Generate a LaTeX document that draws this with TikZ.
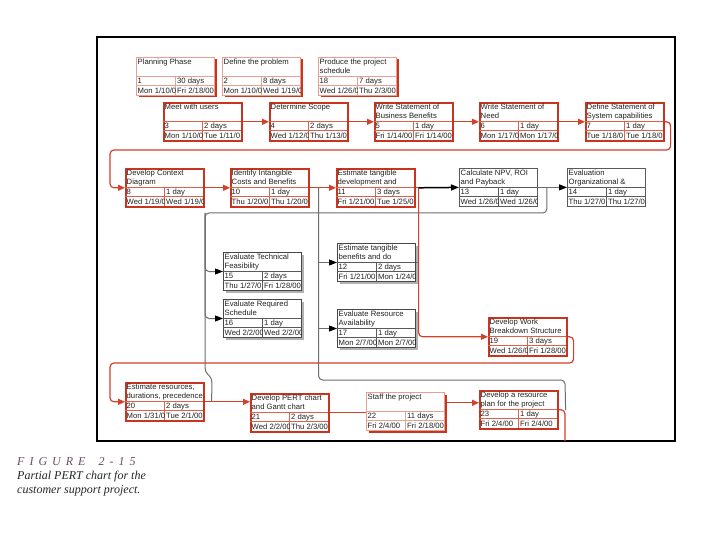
\documentclass[tikz,border=0pt]{standalone}
\usepackage{fontspec}
\newfontfamily\nodefont{Liberation Sans}
\newfontfamily\capfont{Liberation Serif}
\usetikzlibrary{arrows.meta,calc}
\definecolor{pertred}{HTML}{C8341E}
\definecolor{pertsep}{HTML}{E0604A}
\definecolor{pertpink}{HTML}{E8A090}
\definecolor{linered}{HTML}{D4402A}
\definecolor{linegray}{HTML}{6E6E6E}
\definecolor{boxgray}{HTML}{5A5A5A}
\definecolor{figpurple}{HTML}{6E4A64}
\definecolor{txt}{HTML}{222222}
\tikzset{
 rbox/.style={draw=pertred, line width=1.6pt, fill=white},
 rsep/.style={draw=pertsep, line width=0.6pt},
 rshadow/.style={},
 lbox/.style={draw=pertpink, line width=0.7pt, fill=white},
 lsep/.style={draw=pertpink, line width=0.6pt},
 lshadow/.style={fill=pertred},
 gbox/.style={draw=boxgray, line width=0.8pt, fill=white},
 gsep/.style={draw=boxgray, line width=0.5pt},
 gshadow/.style={},
 dbox/.style={draw=boxgray!80!black, line width=1pt, fill=white},
 dsep/.style={draw=boxgray, line width=0.5pt},
 dshadow/.style={fill=gray!60},
 celltext/.style={font=\nodefont\fontsize{7.7}{8.7}\selectfont, text=txt, inner sep=0pt, anchor=base west},
 redline/.style={draw=linered, line width=1.2pt},
 redarrow/.style={redline, -{Triangle[length=7pt,width=6pt]}},
 grayline/.style={draw=linegray, line width=1pt},
 grayarrow/.style={grayline, -{Triangle[length=8pt,width=6pt,color=black]}},
 blackarrow/.style={draw=black, line width=1.5pt, -{Triangle[length=8pt,width=6pt]}},
 captext/.style={anchor=base west, inner sep=0pt, text=black!85, font=\capfont\itshape\fontsize{12}{14}\selectfont},
}
% #1 name, #2 x, #3 y, #4 kind, #5 title, #6 id, #7 duration, #8 start, #9 finish
\newcommand{\pert}[9]{%
 \path[#4shadow] (#2+2.5,#3+2.5) rectangle (#2+80.5,#3+40.5);
 \node[#4box, anchor=north west, minimum width=78pt, minimum height=38pt, inner sep=0pt] (#1) at (#2,#3) {};
 \draw[#4sep] (#2,#3+19) -- (#2+78,#3+19) (#2,#3+28.5) -- (#2+78,#3+28.5) (#2+39,#3+19) -- (#2+39,#3+38);
 \begin{scope}\clip (#2,#3) rectangle (#2+78,#3+19.4);
  \node[celltext, anchor=north west, align=left] (#1-t) at (#2+1.5,#3+2.2) {#5};
 \end{scope}
 \begin{scope}\clip (#2,#3+19) rectangle (#2+39,#3+38);
  \node[celltext] (#1-id) at (#2+1.5,#3+26.6) {#6};
  \node[celltext] (#1-s) at (#2+1.5,#3+36.1) {#8};
 \end{scope}
 \begin{scope}\clip (#2+39,#3+19) rectangle (#2+78,#3+38);
  \node[celltext] (#1-d) at (#2+41,#3+26.6) {#7};
  \node[celltext] (#1-f) at (#2+41,#3+36.1) {#9};
 \end{scope}
}
\begin{document}
\begin{tikzpicture}[x=1pt,y=-1pt]
\useasboundingbox (0,0) rectangle (720,540);
\fill[white] (0,0) rectangle (720,540);
\draw[line width=1.5pt] (97,37) rectangle (675,441);

% row 1
\pert{n1}{136}{57}{l}{Planning Phase}{1}{30 days}{Mon 1/10/0}{Fri 2/18/00}
\pert{n2}{222}{57}{l}{Define the problem}{2}{8 days}{Mon 1/10/0}{Wed 1/19/0}
\pert{n18}{318}{57}{l}{Produce the project\\schedule}{18}{7 days}{Wed 1/26/0}{Thu 2/3/00}
% row 2
\pert{n3}{163}{102}{r}{Meet with users}{3}{2 days}{Mon 1/10/0}{Tue 1/11/0}
\pert{n4}{269}{102}{r}{Determine Scope}{4}{2 days}{Wed 1/12/0}{Thu 1/13/0}
\pert{n5}{374}{102}{r}{Write Statement of\\Business Benefits}{5}{1 day}{Fri 1/14/00}{Fri 1/14/00}
\pert{n6}{479}{102}{r}{Write Statement of\\Need}{6}{1 day}{Mon 1/17/0}{Mon 1/17/0}
\pert{n7}{585}{102}{r}{Define Statement of\\System capabilities}{7}{1 day}{Tue 1/18/0}{Tue 1/18/0}
% row 3
\pert{n8}{125}{168}{r}{Develop Context\\Diagram}{8}{1 day}{Wed 1/19/0}{Wed 1/19/0}
\pert{n10}{230}{168}{r}{Identify Intangible\\Costs and Benefits}{10}{1 day}{Thu 1/20/0}{Thu 1/20/0}
\pert{n11}{336}{168}{r}{Estimate tangible\\development and}{11}{3 days}{Fri 1/21/00}{Tue 1/25/0}
\pert{n13}{459}{168}{g}{Calculate NPV, ROI\\and Payback}{13}{1 day}{Wed 1/26/0}{Wed 1/26/0}
\pert{n14}{567}{168}{g}{Evaluation\\Organizational \&}{14}{1 day}{Thu 1/27/0}{Thu 1/27/0}
% middle
\pert{n12}{337}{243}{d}{Estimate tangible\\benefits and do}{12}{2 days}{Fri 1/21/00}{Mon 1/24/0}
\pert{n15}{223}{252}{d}{Evaluate Technical\\Feasibility}{15}{2 days}{Thu 1/27/0}{Fri 1/28/00}
\pert{n16}{223}{299}{d}{Evaluate Required\\Schedule}{16}{1 day}{Wed 2/2/00}{Wed 2/2/00}
\pert{n17}{337}{309}{d}{Evaluate Resource\\Availability}{17}{1 day}{Mon 2/7/00}{Mon 2/7/00}
\pert{n19}{488}{317}{r}{Develop Work\\Breakdown Structure}{19}{3 days}{Wed 1/26/0}{Fri 1/28/00}
% bottom row
\pert{n20}{125}{382}{r}{Estimate resources,\\durations, precedence}{20}{2 days}{Mon 1/31/0}{Tue 2/1/00}
\pert{n21}{250}{393}{r}{Develop PERT chart\\and Gantt chart}{21}{2 days}{Wed 2/2/00}{Thu 2/3/00}
\pert{n22}{366}{392}{l}{Staff the project}{22}{11 days}{Fri 2/4/00}{Fri 2/18/00}
\pert{n23}{479}{390}{r}{Develop a resource\\plan for the project}{23}{1 day}{Fri 2/4/00}{Fri 2/4/00}

% junction coordinates
\coordinate (b10) at ($(n10.east)+(9,0)$);
\coordinate (b11) at ($(n11.east)+(3,0)$);
\coordinate (b13) at ($(n13.east)+(9,0)$);
\coordinate (g1) at (205,213);
\coordinate (off) at (565,441);

% gray connectors
\draw[grayline, rounded corners=4pt] (b13) |- (g1) -- (205,372) -- (212,378) -- ($(n20.east)+(7,0)$);
\draw[grayarrow, rounded corners=4pt] (g1) |- (n15.west);
\draw[grayarrow, rounded corners=4pt] (g1) |- (n16.west);
\draw[grayarrow] (b10) |- (n12.west);
\draw[grayarrow] (b10) |- (n17.west);
\draw[grayline, rounded corners=4pt] (b10) |- (565,380) -- ($(n23.east)+(7,0)$);
\draw[grayline] (n12.east) -- (n12.east -| b11);
\draw[grayarrow] (n13.east) -- (n14.west);

% red connectors
\draw[redarrow] (n3.east) -- (n4.west);
\draw[redarrow] (n4.east) -- (n5.west);
\draw[redarrow] (n5.east) -- (n6.west);
\draw[redarrow] (n6.east) -- (n7.west);
\draw[redarrow, rounded corners=4pt] (n7.east) -- ++(6,0) |- (110,150) |- (n8.west);
\draw[redarrow] (n8.east) -- (n10.west);
\draw[redarrow] (n10.east) -- (n11.west);
\draw[redline] (n11.east) -- (b11);
\draw[redarrow, rounded corners=4pt] (b11) |- (n19.west);
\draw[blackarrow] (b11) -- (n13.west);
\draw[redarrow, rounded corners=4pt] (n19.east) -- ++(6,0) |- (110,363) |- (n20.west);
\draw[redarrow] (n20.east) -- (n20.east -| n21.west);
\draw[redline] (n21.east) -- (n21.east -| n22.west);
\draw[redarrow] ($(n23.west)+(-32,-7)$) -- ($(n23.west)+(0,-7)$);
\draw[redline, rounded corners=4pt] (n23.east) -| (off);

% caption
\node[anchor=base west, inner sep=0pt, text=figpurple, font=\capfont\itshape\fontsize{12}{14}\selectfont] (figlabel) at (17,465)
  {\spaceskip=5pt F I G U R E\hspace{8pt} 2 - 1 5};
\node[captext] (figcap1) at (17,479) {Partial PERT chart for the};
\node[captext] (figcap2) at (17,493) {customer support project.};
\end{tikzpicture}
\end{document}
